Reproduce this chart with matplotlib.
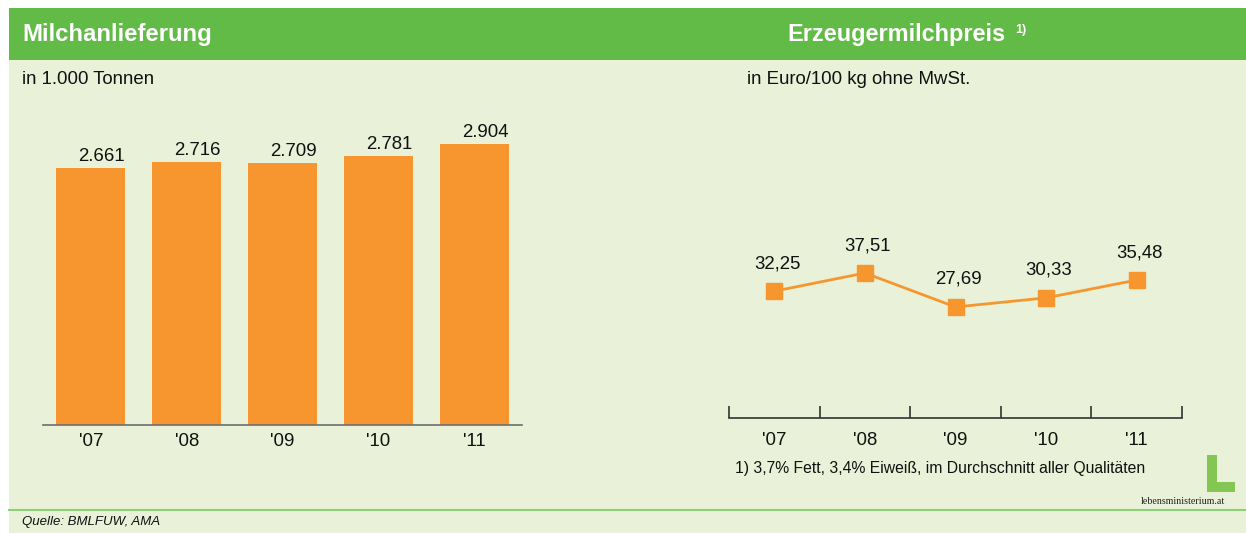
import matplotlib
matplotlib.use('Agg')
import matplotlib.pyplot as plt
from matplotlib.patches import Rectangle, Polygon
import numpy as np

plt.rcParams['font.family'] = ['Liberation Sans', 'DejaVu Sans']

# data
years = ["'07", "'08", "'09", "'10", "'11"]
deliveries = [2661, 2716, 2709, 2781, 2904]          # 1.000 t
delivery_labels = ['2.661', '2.716', '2.709', '2.781', '2.904']
prices = [32.25, 37.51, 27.69, 30.33, 35.48]          # Euro/100 kg
price_labels = ['32,25', '37,51', '27,69', '30,33', '35,48']

W, H = 1246, 533
ORANGE = '#F7962F'
BG = '#E9F1D8'
HEADER = '#62BB47'
FS = 13.4

fig = plt.figure(figsize=(W / 100, H / 100), dpi=100, facecolor='white')


def fx(px):
    return px / W


def fy(py):
    return 1 - py / H


def box(x0, y0, x1, y1):
    # pixel box (top-left origin) -> [left, bottom, width, height]
    return [fx(x0), fy(y1), fx(x1) - fx(x0), fy(y0) - fy(y1)]


# background panels (behind the axes)
fig.patches.append(Rectangle((fx(9), 0), 1 - fx(9), fy(8), transform=fig.transFigure,
                             fc=BG, ec='none', zorder=-2))
fig.patches.append(Rectangle((fx(9), fy(60)), 1 - fx(9), fy(8) - fy(60), transform=fig.transFigure,
                             fc=HEADER, ec='none', zorder=-1))
fig.lines.append(plt.Line2D([fx(9), 1], [fy(510), fy(510)], transform=fig.transFigure,
                            color='#8DD07A', lw=1.5, zorder=-1))

# header / subtitle texts
fig.text(fx(22), fy(34), 'Milchanlieferung', color='white', fontsize=17.2, fontweight='bold', va='center')
fig.text(fx(787), fy(34), 'Erzeugermilchpreis', color='white', fontsize=16.9, fontweight='bold', va='center')
fig.text(fx(1015), fy(30), '1)', color='white', fontsize=9, fontweight='bold', va='center')
fig.text(fx(22), fy(80), 'in 1.000 Tonnen', fontsize=FS, va='center', color='#111111')
fig.text(fx(747), fy(80), 'in Euro/100 kg ohne MwSt.', fontsize=FS, va='center', color='#111111')
fig.text(fx(735), fy(468), '1) 3,7% Fett, 3,4% Eiweiß, im Durchschnitt aller Qualitäten',
         fontsize=11.3, va='center', color='#111111')
fig.text(fx(22), fy(522), 'Quelle: BMLFUW, AMA', fontsize=9.5, style='italic', va='center', color='#111111')

# logo
logo = Polygon([(fx(1207), fy(455)), (fx(1217), fy(455)), (fx(1217), fy(482)), (fx(1235), fy(482)),
                (fx(1235), fy(492)), (fx(1207), fy(492))], closed=True, transform=fig.transFigure,
               fc='#84C653', ec='none')
fig.patches.append(logo)
fig.text(fx(1183), fy(501), 'lebensministerium.at', family=['Liberation Serif', 'DejaVu Serif'],
         fontsize=7.2, ha='center', va='center', color='#222222')

# left: bar chart
ax1 = fig.add_axes(box(43, 135, 522, 425))
ax1.set_facecolor('none')
x = np.arange(len(years))
ax1.bar(x, deliveries, width=0.72, color=ORANGE, zorder=2)
for xi, v, lab in zip(x, deliveries, delivery_labels):
    ax1.annotate(lab, (xi, v), xytext=(11, 3), textcoords='offset pixels',
                 ha='center', va='bottom', fontsize=FS, color='#111111')
ax1.set_xlim(-0.5, 4.5)
ax1.set_ylim(0, 3000)
for s in ['top', 'right', 'left']:
    ax1.spines[s].set_visible(False)
ax1.spines['bottom'].set_color('#6E6E6E')
ax1.spines['bottom'].set_linewidth(1.2)
ax1.set_yticks([])
ax1.set_xticks(x)
ax1.set_xticklabels(years, fontsize=FS, color='#111111')
ax1.tick_params(axis='x', length=0, pad=6)

# right: line chart
ax2 = fig.add_axes(box(729, 135, 1182, 418))
ax2.set_facecolor('none')
ax2.plot(x, prices, color=ORANGE, lw=2, marker='s', ms=11.5, zorder=3)
for xi, v, lab in zip(x, prices, price_labels):
    ax2.annotate(lab, (xi, v), xytext=(3, 19), textcoords='offset pixels',
                 ha='center', va='bottom', fontsize=FS, color='#111111')
ax2.set_xlim(-0.5, 4.5)
ax2.set_ylim(-4.4, 77.4)
for s in ['top', 'right', 'left']:
    ax2.spines[s].set_visible(False)
ax2.spines['bottom'].set_color('#333333')
ax2.spines['bottom'].set_linewidth(1.2)
ax2.set_yticks([])
ax2.set_xticks(np.arange(-0.5, 5, 1.0))
ax2.set_xticklabels([])
ax2.tick_params(axis='x', which='major', direction='in', length=9, width=1.2, color='#333333')
ax2.set_xticks(x, minor=True)
ax2.set_xticklabels(years, minor=True, fontsize=FS, color='#111111')
ax2.tick_params(axis='x', which='minor', length=0, pad=10)

fig.savefig('out.png', dpi=100, facecolor='white')
